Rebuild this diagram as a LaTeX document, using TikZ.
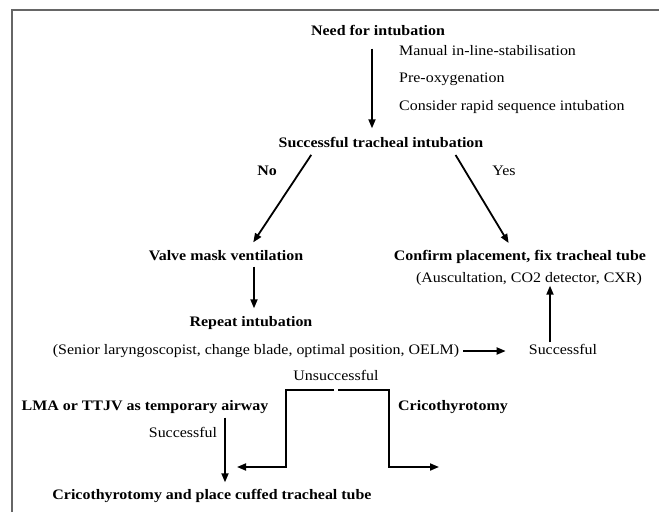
\documentclass[tikz,border=0pt]{standalone}
\usepackage{fontspec}
\setmainfont{Liberation Serif}[FakeStretch=1.1]
\usetikzlibrary{positioning,arrows.meta}
\newcommand\flowfont{\fontsize{14.5}{17}\selectfont}
\tikzset{%
  arrow/.style = { -{Triangle[length=9pt,width=7pt]}, line width = 1.8pt, draw = black },
  sbox/.style  = { inner sep = 0pt, text height = 10pt, text depth = 3pt, font = \flowfont\bfseries },
  nbox/.style  = { inner sep = 0pt, text height = 10pt, text depth = 3pt, font = \flowfont },
  frame/.style = { draw = black!60, line width = 1.4pt }
}

\begin{document}
\begin{tikzpicture}[x=1pt, y=-1pt]
\useasboundingbox (0,0) rectangle (659,512);
\draw[frame] (12,512) -- (12,10) -- (659,10);

% first step
\node(need)    [sbox] at (378,32)  {Need for intubation};
\node(manual)  [nbox, anchor = west] at (399,52) {Manual in-line-stabilisation};
\node(preox)   [nbox, below right = 14pt and 0pt of manual.south west] {Pre-oxygenation};
\node(rsi)     [nbox, below right = 14pt and 0pt of preox.south west]  {Consider rapid sequence intubation};
\node(succ)    [sbox] at (381,144) {Successful tracheal intubation};
\node(no)      [sbox] at (267,172) {No};
\node(yes)     [nbox] at (504,172) {Yes};

% no branch
\node(valve)   [sbox] at (226,257) {Valve mask ventilation};
\node(repeat)  [sbox] at (251,323) {Repeat intubation};
\node(senior)  [nbox] at (256,351) {(Senior laryngoscopist, change blade, optimal position, OELM)};
\node(succtwo) [nbox] at (563,351) {Successful};

% yes branch
\node(confirm) [sbox] at (520,257) {Confirm placement, fix tracheal tube};
\node(ausc)    [nbox] at (529,279) {(Auscultation, CO2 detector, CXR)};

% rescue
\node(unsucc)  [nbox] at (336,377) {Unsuccessful};
\node(lma)     [sbox] at (145,407) {LMA or TTJV as temporary airway};
\node(crico)   [sbox] at (453,407) {Cricothyrotomy};
\node(succlma) [nbox] at (183,434) {Successful};
\node(final)   [sbox] at (212,496) {Cricothyrotomy and place cuffed tracheal tube};

\coordinate (lturn) at (286,467);
\coordinate (lend)  at (237,467);
\coordinate (rturn) at (389,467);
\coordinate (rend)  at (439,467);

\draw[arrow, shorten <= 10pt, shorten >= 9pt] ([xshift=-6pt]need.south) -- ([xshift=-9pt]succ.north);
\draw[arrow, shorten <= 5pt, shorten >= 9.5pt] ([xshift=-67pt]succ.south) -- ([xshift=22pt]valve.north);
\draw[arrow, shorten <= 5pt, shorten >= 8.5pt] ([xshift=72pt]succ.south) -- ([xshift=-7pt]confirm.north);
\draw[arrow, shorten <= 3pt, shorten >= 8pt] ([xshift=28pt]valve.south) -- ([xshift=3pt]repeat.north);
\draw[arrow, shorten <= 4pt, shorten >= 23pt] (senior.east) -- (succtwo.west);
\draw[arrow, shorten <= 2pt, shorten >= 0pt] ([xshift=-13pt]succtwo.north) -- ([xshift=21pt]ausc.south);
\draw[arrow] ([xshift=-2pt,yshift=-6pt]unsucc.south) -| (lturn) -- (lend);
\draw[arrow] ([xshift=2pt,yshift=-6pt]unsucc.south) -| (rturn) -- (rend);
\draw[arrow, shorten <= 4pt, shorten >= 7pt] ([xshift=80pt]lma.south) -- ([xshift=13pt]final.north);
\end{tikzpicture}
\end{document}
